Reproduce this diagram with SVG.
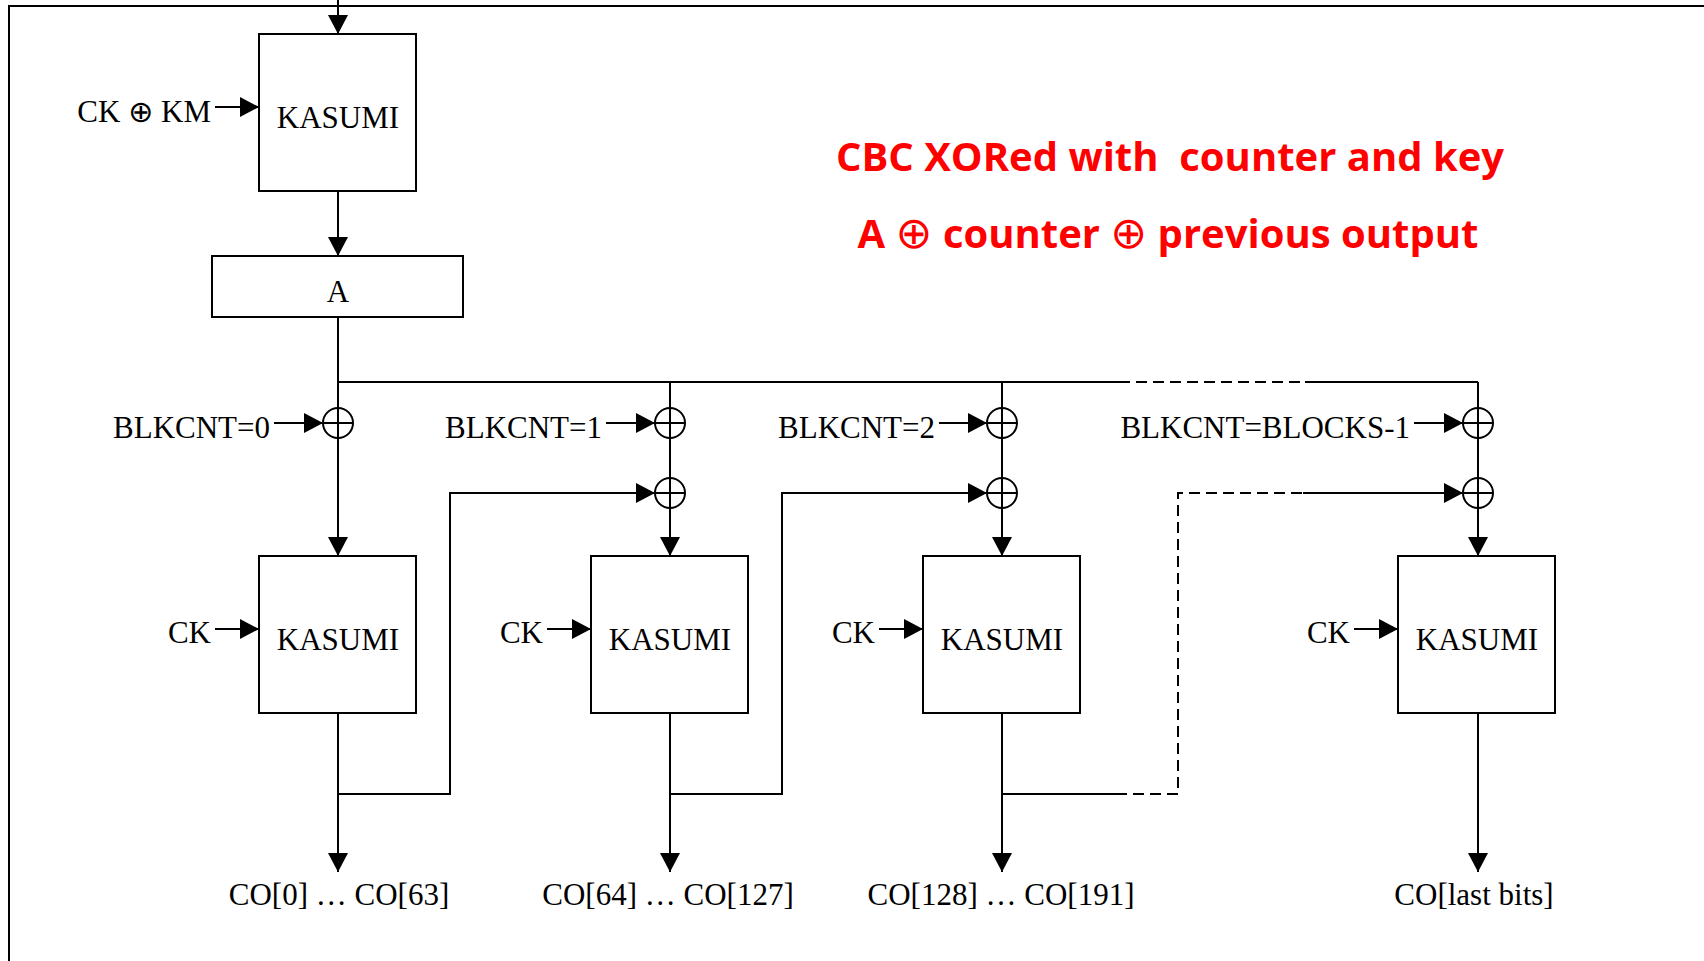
<svg xmlns="http://www.w3.org/2000/svg" width="1704" height="961" viewBox="0 0 1704 961">
<style>
.ln{fill:none;stroke:#000;stroke-width:2}
.ds{fill:none;stroke:#000;stroke-width:2;stroke-dasharray:11 6}
.bx{fill:#fff;stroke:#000;stroke-width:2}
.xr{fill:none;stroke:#000;stroke-width:2}
.t{font-family:"Liberation Serif","Times New Roman",serif;font-size:31px;fill:#000}
.m{text-anchor:middle}
.e{text-anchor:end}
.r{font-family:"Open Sans","DejaVu Sans",sans-serif;font-weight:bold;font-size:40px;fill:#ff0000;text-anchor:middle}
.op{font-family:"DejaVu Sans",sans-serif;font-weight:normal}
</style>
<defs>
<marker id="ah" viewBox="0 0 19 20" refX="19" refY="10" markerWidth="19" markerHeight="20" orient="auto" markerUnits="userSpaceOnUse">
<path d="M0,0 L19,10 L0,20 z" fill="#000"/>
</marker>
</defs>
<rect x="0" y="0" width="1704" height="961" fill="#fff"/>
<path class="ln" d="M9,975 V6 H1720"/>

<g id="connectors">
<path class="ln" d="M338,0 V34" marker-end="url(#ah)"/>
<path class="ln" d="M215,107 H259" marker-end="url(#ah)"/>
<path class="ln" d="M338,191 V256" marker-end="url(#ah)"/>
<path class="ln" d="M338,317 V556" marker-end="url(#ah)"/>
<path class="ln" d="M338,382 H1119"/>
<path class="ds" d="M1119,382 H1305"/>
<path class="ln" d="M1305,382 H1478"/>
<path class="ln" d="M670,382 V556" marker-end="url(#ah)"/>
<path class="ln" d="M1002,382 V556" marker-end="url(#ah)"/>
<path class="ln" d="M1478,382 V556" marker-end="url(#ah)"/>
<path class="ln" d="M274,423 H323" marker-end="url(#ah)"/>
<path class="ln" d="M606,423 H655" marker-end="url(#ah)"/>
<path class="ln" d="M939,423 H987" marker-end="url(#ah)"/>
<path class="ln" d="M1414,423 H1463" marker-end="url(#ah)"/>
<path class="ln" d="M215,629 H259" marker-end="url(#ah)"/>
<path class="ln" d="M547,629 H591" marker-end="url(#ah)"/>
<path class="ln" d="M879,629 H923" marker-end="url(#ah)"/>
<path class="ln" d="M1354,629 H1398" marker-end="url(#ah)"/>
<path class="ln" d="M338,713 V872" marker-end="url(#ah)"/>
<path class="ln" d="M670,713 V872" marker-end="url(#ah)"/>
<path class="ln" d="M1002,713 V872" marker-end="url(#ah)"/>
<path class="ln" d="M1478,713 V872" marker-end="url(#ah)"/>
<path class="ln" d="M338,794 H450 V493 H655" marker-end="url(#ah)"/>
<path class="ln" d="M670,794 H782 V493 H987" marker-end="url(#ah)"/>
<path class="ln" d="M1002,794 H1116"/>
<path class="ds" d="M1116,794 H1178 V493 H1303"/>
<path class="ln" d="M1303,493 H1463" marker-end="url(#ah)"/>
</g>

<g id="xor1"><circle class="xr" cx="338" cy="423" r="15"/><path class="ln" d="M323,423 H353 M338,408 V438"/></g>
<g id="xor2a"><circle class="xr" cx="670" cy="423" r="15"/><path class="ln" d="M655,423 H685 M670,408 V438"/></g>
<g id="xor2b"><circle class="xr" cx="670" cy="493" r="15"/><path class="ln" d="M655,493 H685 M670,478 V508"/></g>
<g id="xor3a"><circle class="xr" cx="1002" cy="423" r="15"/><path class="ln" d="M987,423 H1017 M1002,408 V438"/></g>
<g id="xor3b"><circle class="xr" cx="1002" cy="493" r="15"/><path class="ln" d="M987,493 H1017 M1002,478 V508"/></g>
<g id="xor4a"><circle class="xr" cx="1478" cy="423" r="15"/><path class="ln" d="M1463,423 H1493 M1478,408 V438"/></g>
<g id="xor4b"><circle class="xr" cx="1478" cy="493" r="15"/><path class="ln" d="M1463,493 H1493 M1478,478 V508"/></g>

<g id="kasumi0"><rect class="bx" x="259" y="34" width="157" height="157"/><text class="t m" x="338" y="128">KASUMI</text></g>
<g id="boxA"><rect class="bx" x="212" y="256" width="251" height="61"/><text class="t m" x="338" y="302">A</text></g>
<g id="kasumi1"><rect class="bx" x="259" y="556" width="157" height="157"/><text class="t m" x="338" y="650">KASUMI</text></g>
<g id="kasumi2"><rect class="bx" x="591" y="556" width="157" height="157"/><text class="t m" x="670" y="650">KASUMI</text></g>
<g id="kasumi3"><rect class="bx" x="923" y="556" width="157" height="157"/><text class="t m" x="1002" y="650">KASUMI</text></g>
<g id="kasumi4"><rect class="bx" x="1398" y="556" width="157" height="157"/><text class="t m" x="1477" y="650">KASUMI</text></g>

<g id="labels">
<text class="t e" x="211" y="122">CK <tspan class="op" font-size="30">⊕</tspan> KM</text>
<text class="t e" x="270" y="438">BLKCNT=0</text>
<text class="t e" x="602" y="438">BLKCNT=1</text>
<text class="t e" x="935" y="438">BLKCNT=2</text>
<text class="t e" x="1410" y="438">BLKCNT=BLOCKS-1</text>
<text class="t e" x="211" y="643">CK</text>
<text class="t e" x="543" y="643">CK</text>
<text class="t e" x="875" y="643">CK</text>
<text class="t e" x="1350" y="643">CK</text>
<text class="t m" x="339" y="905">CO[0] … CO[63]</text>
<text class="t m" x="668" y="905">CO[64] … CO[127]</text>
<text class="t m" x="1001" y="905">CO[128] … CO[191]</text>
<text class="t m" x="1474" y="905">CO[last bits]</text>
</g>

<g id="title">
<text class="r" x="1170" y="171" xml:space="preserve">CBC XORed with  counter and key</text>
<text class="r" x="1168" y="248">A <tspan class="op" font-size="44">⊕</tspan> counter <tspan class="op" font-size="44">⊕</tspan> previous output</text>
</g>
</svg>
